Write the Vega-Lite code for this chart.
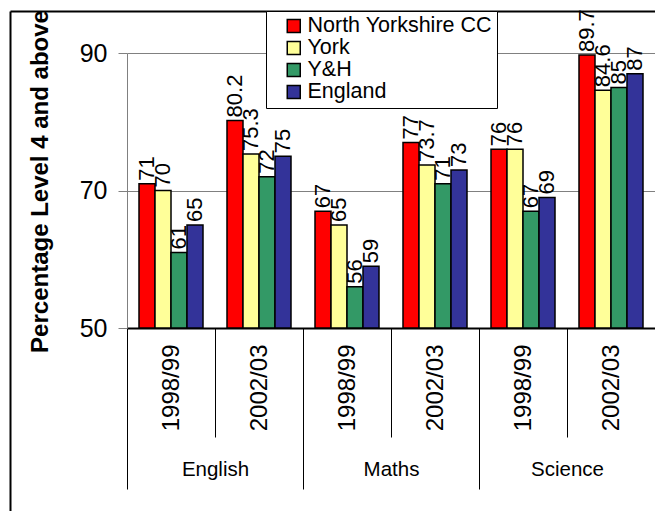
{
  "$schema": "https://vega.github.io/schema/vega-lite/v6.json",
  "width": 528,
  "height": 275,
  "autosize": {"type": "none"},
  "padding": {"left": 127, "top": 53, "right": 0, "bottom": 183},
  "background": "white",
  "config": {"font": "Liberation Sans", "view": {"stroke": null}},
  "data": {"values": [
    {"subject": "English", "year": "1998/99", "slot": "English 1998/99", "series": "North Yorkshire CC", "value": 71},
    {"subject": "English", "year": "1998/99", "slot": "English 1998/99", "series": "York", "value": 70},
    {"subject": "English", "year": "1998/99", "slot": "English 1998/99", "series": "Y&H", "value": 61},
    {"subject": "English", "year": "1998/99", "slot": "English 1998/99", "series": "England", "value": 65},
    {"subject": "English", "year": "2002/03", "slot": "English 2002/03", "series": "North Yorkshire CC", "value": 80.2},
    {"subject": "English", "year": "2002/03", "slot": "English 2002/03", "series": "York", "value": 75.3},
    {"subject": "English", "year": "2002/03", "slot": "English 2002/03", "series": "Y&H", "value": 72},
    {"subject": "English", "year": "2002/03", "slot": "English 2002/03", "series": "England", "value": 75},
    {"subject": "Maths", "year": "1998/99", "slot": "Maths 1998/99", "series": "North Yorkshire CC", "value": 67},
    {"subject": "Maths", "year": "1998/99", "slot": "Maths 1998/99", "series": "York", "value": 65},
    {"subject": "Maths", "year": "1998/99", "slot": "Maths 1998/99", "series": "Y&H", "value": 56},
    {"subject": "Maths", "year": "1998/99", "slot": "Maths 1998/99", "series": "England", "value": 59},
    {"subject": "Maths", "year": "2002/03", "slot": "Maths 2002/03", "series": "North Yorkshire CC", "value": 77},
    {"subject": "Maths", "year": "2002/03", "slot": "Maths 2002/03", "series": "York", "value": 73.7},
    {"subject": "Maths", "year": "2002/03", "slot": "Maths 2002/03", "series": "Y&H", "value": 71},
    {"subject": "Maths", "year": "2002/03", "slot": "Maths 2002/03", "series": "England", "value": 73},
    {"subject": "Science", "year": "1998/99", "slot": "Science 1998/99", "series": "North Yorkshire CC", "value": 76},
    {"subject": "Science", "year": "1998/99", "slot": "Science 1998/99", "series": "York", "value": 76},
    {"subject": "Science", "year": "1998/99", "slot": "Science 1998/99", "series": "Y&H", "value": 67},
    {"subject": "Science", "year": "1998/99", "slot": "Science 1998/99", "series": "England", "value": 69},
    {"subject": "Science", "year": "2002/03", "slot": "Science 2002/03", "series": "North Yorkshire CC", "value": 89.7},
    {"subject": "Science", "year": "2002/03", "slot": "Science 2002/03", "series": "York", "value": 84.6},
    {"subject": "Science", "year": "2002/03", "slot": "Science 2002/03", "series": "Y&H", "value": 85},
    {"subject": "Science", "year": "2002/03", "slot": "Science 2002/03", "series": "England", "value": 87}
  ]},
  "layer": [
    {
      "encoding": {
        "x": {"field": "slot", "type": "nominal", "sort": null,
          "scale": {"paddingInner": 0, "paddingOuter": 0},
          "axis": {"orient": "bottom", "title": null, "domain": true, "domainColor": "black", "domainWidth": 2,
            "ticks": true, "tickBand": "extent", "tickSize": 109, "tickColor": "black", "tickWidth": 1,
            "labelExpr": "substring(datum.label, indexof(datum.label, ' ') + 1)", "labelAngle": 270, "labelAlign": "right", "labelBaseline": "middle",
            "labelPadding": -93, "labelFontSize": 24, "labelColor": "black", "grid": false}},
        "xOffset": {"field": "series", "type": "nominal", "sort": null,
          "scale": {"paddingInner": 0, "paddingOuter": 0.75}},
        "y": {"field": "value", "type": "quantitative",
          "scale": {"domain": [50, 90], "zero": false, "nice": false},
          "axis": {"orient": "left", "values": [50, 70, 90], "title": "Percentage Level 4 and above",
            "titleFontSize": 24, "titleFontWeight": "bold", "titleColor": "black", "titleX": -87, "titleY": 128,
            "titleAngle": 270, "titleAlign": "center", "titleBaseline": "middle",
            "grid": true, "gridColor": "#808080", "gridWidth": 1, "domainColor": "#808080", "tickColor": "#808080",
            "tickSize": 9, "labelFontSize": 25, "labelPadding": 11, "labelColor": "black"}}
      },
      "layer": [
        {
          "mark": {"type": "bar", "stroke": "black", "strokeWidth": 1.5},
          "encoding": {
            "y2": {"datum": 50},
            "color": {"field": "series", "type": "nominal", "sort": null,
              "scale": {"domain": ["North Yorkshire CC", "York", "Y&H", "England"], "range": ["#FF0000", "#FFFF99", "#339966", "#333399"]},
              "legend": {"title": null, "orient": "none", "legendX": 139, "legendY": -42, "direction": "vertical",
                "fillColor": "white", "strokeColor": "black", "padding": 5, "cornerRadius": 0,
                "symbolType": "square", "symbolSize": 169, "symbolStrokeColor": "black", "symbolStrokeWidth": 1.5,
                "symbolOffset": 12, "labelOffset": 3, "labelFontSize": 21.5, "labelColor": "black", "rowPadding": 0,
                "clipHeight": 20, "labelLimit": 400}}
          }
        },
        {
          "mark": {"type": "text", "angle": 270, "align": "left", "baseline": "middle", "dx": 3, "fontSize": 22, "color": "black"},
          "encoding": {"text": {"field": "value", "type": "quantitative"}}
        }
      ]
    },
    {
      "mark": {"type": "text", "text": "x", "opacity": 0},
      "encoding": {
        "x": {"field": "subject", "type": "nominal", "sort": null,
          "scale": {"paddingInner": 0, "paddingOuter": 0},
          "axis": {"orient": "bottom", "title": null, "domain": false, "tickBand": "extent", "tickSize": 161,
            "tickColor": "black", "tickWidth": 1, "labelAngle": 0, "labelFontSize": 20.5, "labelPadding": -30,
            "labelColor": "black", "grid": false}}
      }
    },
    {
      "mark": {"type": "point", "opacity": 0},
      "encoding": {
        "x": {"datum": 0, "type": "quantitative", "scale": {"domain": [0, 1], "range": [-117, 528]},
          "axis": {"orient": "top", "offset": 42, "ticks": false, "labels": false, "title": null, "grid": false,
            "domainColor": "black", "domainWidth": 2}},
        "y": {"datum": 0, "type": "quantitative", "scale": {"domain": [0, 1], "range": [458, -42]},
          "axis": {"orient": "left", "offset": 117, "ticks": false, "labels": false, "title": null, "grid": false,
            "domainColor": "black", "domainWidth": 2}}
      }
    }
  ],
  "resolve": {"scale": {"x": "independent", "y": "independent"}, "axis": {"x": "independent", "y": "independent"}}
}
